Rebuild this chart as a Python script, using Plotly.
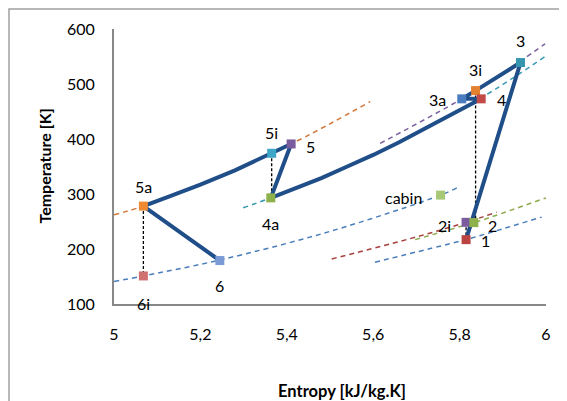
import plotly.graph_objects as go

# ---------------- data ----------------
state_names = ["1", "2i", "2", "3", "3i", "3a", "4", "4a", "5i", "5", "5a", "6i", "6", "cabin"]
state_entropy = [5.815, 5.815, 5.833, 5.941, 5.837, 5.805, 5.850, 5.363, 5.365, 5.410, 5.068, 5.068, 5.245, 5.756]
state_temperature = [217, 248.5, 248, 539, 488, 473, 473, 293, 374, 391, 278, 151, 179, 298]

# thick cycle path
cycle_entropy = [5.245, 5.068, 5.130, 5.200, 5.280, 5.365, 5.410, 5.363,
                 5.400, 5.480, 5.540, 5.600, 5.660, 5.700, 5.780, 5.850, 5.805, 5.837, 5.941, 5.815]
cycle_temperature = [179, 278, 296, 317, 343, 374, 391, 293,
                     304, 329, 350, 371, 394, 410, 444, 473, 473, 488, 539, 217]

# dashed isobars
iso_orange_s = [5.000, 5.068, 5.200, 5.410, 5.593]
iso_orange_T = [262, 278, 318, 391, 468]
iso_ambient_s = [5.000, 5.068, 5.245, 5.500, 5.756, 5.796]
iso_ambient_T = [141, 151, 180, 232, 298, 312]
iso_teal_s = [5.299, 5.363, 5.600, 5.850, 6.000]
iso_teal_T = [275, 293, 371, 475, 551]
iso_purple_s = [5.616, 5.805, 5.900, 5.998]
iso_purple_T = [392, 473, 520, 573]
iso_red_s = [5.504, 5.700, 5.815, 5.886]
iso_red_T = [182, 222, 248.5, 267]
iso_olive_s = [5.697, 5.833, 5.850, 6.000]
iso_olive_T = [217, 248, 252, 293]
iso_blue_s = [5.604, 5.800, 5.815, 5.990]
iso_blue_T = [176, 214, 217, 258]

# vertical (isentropic) black dashed lines
vert_s = [[5.068, 5.068], [5.365, 5.365], [5.837, 5.837], [5.815, 5.815]]
vert_T = [[278, 151], [374, 293], [488, 248], [248.5, 217]]

x_tick_values = [5.0, 5.2, 5.4, 5.6, 5.8, 6.0]
x_tick_text = ["5", "5,2", "5,4", "5,6", "5,8", "6"]
y_tick_values = [100, 200, 300, 400, 500, 600]

# ---------------- styling ----------------
FONT = "Lato, Carlito, Calibri, sans-serif"
FS = 16
marker_colors = {
    "1": "#B94441", "2i": "#7A5C9E", "2": "#8FB14C", "3": "#3696B0",
    "3i": "#E3812F", "3a": "#4A7DC0", "4": "#C24A48", "4a": "#8DB04B",
    "5i": "#3EA6C6", "5": "#7A5C9E", "5a": "#F08A32", "6i": "#D07070",
    "6": "#7A9AD6", "cabin": "#A7C874",
}
# label offsets in pixels (dx right, dy down)
label_offsets = {
    "1": (19, 1), "2i": (-22, 3), "2": (19, 3), "3": (0, -22),
    "3i": (0, -21), "3a": (-24, 1), "4": (20, 1), "4a": (0, 26),
    "5i": (0, -21), "5": (19, 3), "5a": (0, -20), "6i": (0, 28),
    "6": (0, 25), "cabin": (-37, 2),
}

fig = go.Figure()

isobars = [
    (iso_orange_s, iso_orange_T, "#D2793A"),
    (iso_ambient_s, iso_ambient_T, "#4A7EBB"),
    (iso_teal_s, iso_teal_T, "#3B9BB3"),
    (iso_purple_s, iso_purple_T, "#7B5FA0"),
    (iso_red_s, iso_red_T, "#A5403D"),
    (iso_olive_s, iso_olive_T, "#8FAA4E"),
    (iso_blue_s, iso_blue_T, "#4A7EBB"),
]
for s, T, c in isobars:
    fig.add_trace(go.Scatter(x=s, y=T, mode="lines",
                             line=dict(color=c, width=1.5, dash="5px,4px", shape="spline", smoothing=1.0),
                             hoverinfo="skip", showlegend=False))

for s, T in zip(vert_s, vert_T):
    fig.add_trace(go.Scatter(x=s, y=T, mode="lines",
                             line=dict(color="#000000", width=1.3, dash="3px,2px"),
                             hoverinfo="skip", showlegend=False))

fig.add_trace(go.Scatter(x=cycle_entropy, y=cycle_temperature, mode="lines",
                         line=dict(color="#1F4E89", width=4),
                         hoverinfo="skip", showlegend=False))

fig.add_trace(go.Scatter(x=state_entropy, y=state_temperature, mode="markers",
                         marker=dict(symbol="square", size=9,
                                     color=[marker_colors[n] for n in state_names],
                                     line=dict(width=0)),
                         text=state_names, hoverinfo="text", showlegend=False))

annotations = []
for n, s, T in zip(state_names, state_entropy, state_temperature):
    dx, dy = label_offsets[n]
    annotations.append(dict(x=s, y=T, xref="x", yref="y", text=n, showarrow=False,
                            xanchor="center", yanchor="middle",
                            xshift=dx, yshift=-dy, font=dict(family=FONT, size=FS, color="#000000")))

annotations.append(dict(x=(44 - 114) / 432, y=0.5, xref="paper", yref="paper", text="<b>Temperature [K]</b>",
                        xanchor="center", yanchor="middle",
                        textangle=-90, showarrow=False, font=dict(family=FONT, size=FS, color="#000000")))
annotations.append(dict(x=(342 - 114) / 432, y=-(390.5 - 304) / 275, xref="paper", yref="paper",
                        text="<b>Entropy [kJ/kg.K]</b>", xanchor="center", yanchor="middle",
                        showarrow=False, font=dict(family=FONT, size=FS + 0.5, color="#000000")))

# the page body has an 8px margin, so the figure is sized/placed to compensate
fig.update_layout(
    width=559, height=393,
    margin=dict(l=106, r=21, t=21, b=97, autoexpand=False),
    paper_bgcolor="white", plot_bgcolor="white",
    font=dict(family=FONT, size=FS, color="#000000"),
    annotations=annotations,
    shapes=[dict(type="rect", xref="paper", yref="paper",
                 x0=(9 - 114) / 432, x1=(590 - 114) / 432,
                 y0=(304 - 430) / 275, y1=(304 - 9) / 275,
                 line=dict(color="#A0A0A0", width=1.5), layer="below")],
)
fig.update_xaxes(range=[5, 6], tickvals=x_tick_values, ticktext=x_tick_text,
                 showgrid=False, zeroline=False, showline=True, linecolor="#888888", linewidth=2,
                 ticks="", ticklabelstandoff=15, tickfont=dict(family=FONT, size=FS, color="#000000"))
fig.update_yaxes(range=[100, 600], tickvals=y_tick_values,
                 showgrid=False, zeroline=False, showline=True, linecolor="#888888", linewidth=2,
                 ticks="", ticklabelstandoff=14, tickfont=dict(family=FONT, size=FS, color="#000000"))

fig.write_html("out.html")
